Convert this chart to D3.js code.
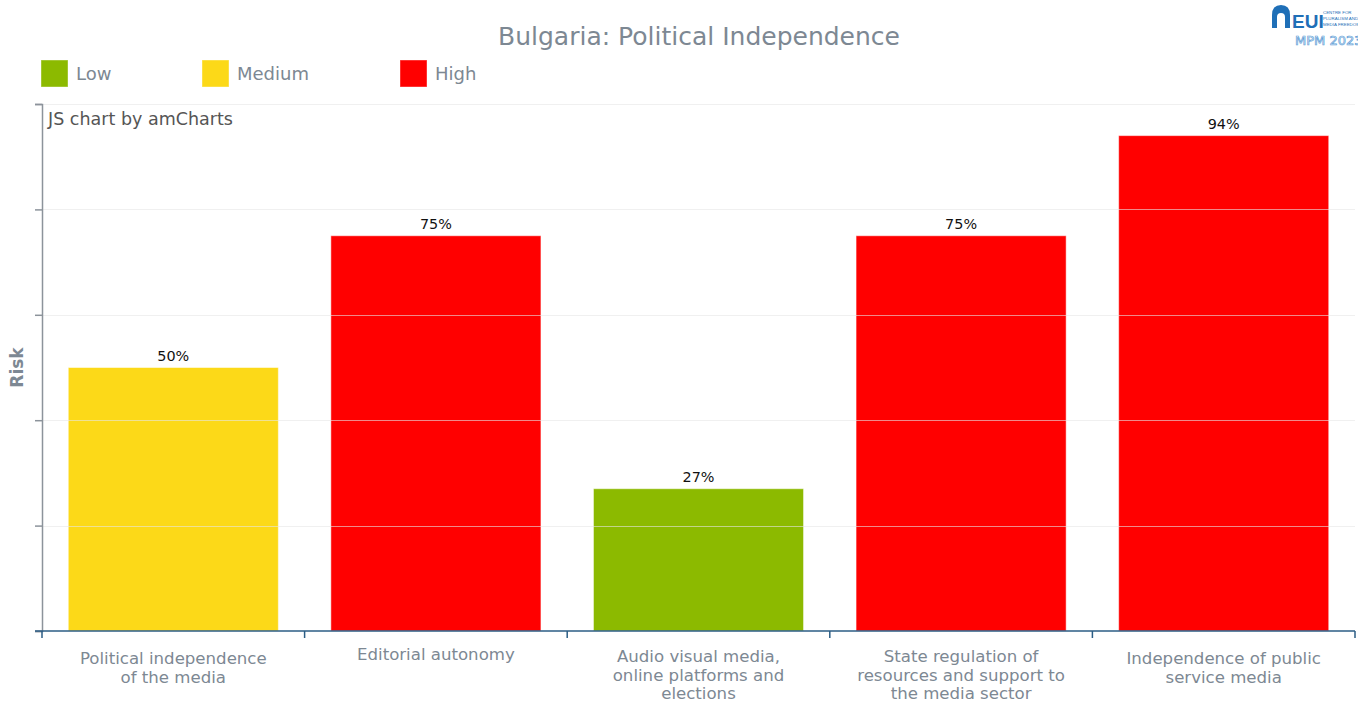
<!DOCTYPE html>
<html>
<head>
<meta charset="utf-8">
<script src="https://cdn.jsdelivr.net/npm/d3@7"></script>
<style>
  body { margin: 0; background: #fff; }
  svg { display: block; font-family: 'DejaVu Sans', Verdana, sans-serif; }
</style>
</head>
<body>
<svg id="chart" width="1358" height="702"></svg>
<script>
const categories = [
  ['Political independence', 'of the media'],
  ['Editorial autonomy'],
  ['Audio visual media,', 'online platforms and', 'elections'],
  ['State regulation of', 'resources and support to', 'the media sector'],
  ['Independence of public', 'service media']
]
const values = [50, 75, 27, 75, 94]
const riskLevels = ['Medium', 'High', 'Low', 'High', 'High']
const legendNames = ['Low', 'Medium', 'High']
const legendColors = ['#8cba00', '#fcd918', '#ff0000']
const yTicks = [0, 20, 40, 60, 80, 100]

const width = 1358
const height = 702
const margin = { top: 104, left: 42, bottom: 71, right: 3 }
const chartWidth = width - (margin.left + margin.right)
const chartHeight = height - (margin.top + margin.bottom)

const svg = d3.select('#chart')
const color = d3.scaleOrdinal().domain(legendNames).range(legendColors)

const x = d3.scaleBand()
  .domain(d3.range(categories.length))
  .range([margin.left, margin.left + chartWidth])
  .paddingInner(0.2)
  .paddingOuter(0.1)

const y = d3.scaleLinear()
  .domain([0, 100])
  .range([margin.top + chartHeight, margin.top])

// title
svg.append('text')
  .attr('x', 699).attr('y', 45)
  .attr('text-anchor', 'middle')
  .attr('fill', '#7d8893')
  .style('font-size', '25px')
  .text('Bulgaria: Political Independence')

// legend
const legendX = [41, 202, 400]
const legend = svg.append('g').selectAll('g').data(legendNames).enter().append('g')
  .attr('transform', (d, i) => `translate(${legendX[i]},60)`)
legend.append('rect')
  .attr('width', 27).attr('height', 27)
  .attr('fill', d => color(d))
  .attr('stroke', 'rgba(255,255,255,0.4)')
legend.append('text')
  .attr('x', 35).attr('y', 20)
  .attr('fill', '#7d8893')
  .style('font-size', '18px')
  .text(d => d)

// bars
svg.append('g').selectAll('rect').data(values).enter().append('rect')
  .attr('x', (d, i) => x(i))
  .attr('y', d => y(d))
  .attr('width', x.bandwidth())
  .attr('height', d => y(0) - y(d))
  .attr('fill', (d, i) => color(riskLevels[i]))
  .attr('stroke', 'rgba(255,255,255,0.5)')
  .attr('stroke-width', 1)

// grid drawn over bars, faint
svg.append('g').selectAll('line').data(yTicks.slice(1)).enter().append('line')
  .attr('x1', margin.left).attr('x2', margin.left + chartWidth)
  .attr('y1', d => Math.round(y(d)) + 0.5).attr('y2', d => Math.round(y(d)) + 0.5)
  .attr('stroke', '#e6e6e6')
  .attr('stroke-opacity', 0.6)

// value labels
svg.append('g').selectAll('text').data(values).enter().append('text')
  .attr('x', (d, i) => x(i) + x.bandwidth() / 2)
  .attr('y', d => y(d) - 7)
  .attr('text-anchor', 'middle')
  .attr('fill', '#111')
  .style('font-size', '14.4px')
  .text(d => d + '%')

// y axis
const yAxis = svg.append('g')
  .attr('transform', `translate(${margin.left},0)`)
  .call(d3.axisLeft(y).tickValues(yTicks).tickSize(7).tickFormat(''))
yAxis.selectAll('path, line').attr('stroke', '#8c939b').attr('stroke-width', 1.5)

svg.append('text')
  .attr('transform', `translate(23,${margin.top + chartHeight / 2}) rotate(-90)`)
  .attr('text-anchor', 'middle')
  .attr('fill', '#7d8893')
  .style('font-size', '17px')
  .style('font-weight', 'bold')
  .text('Risk')

// x axis
const xEdges = d3.range(categories.length + 1).map(i => margin.left + i * chartWidth / categories.length)
const xAxisG = svg.append('g')
xAxisG.append('line')
  .attr('x1', margin.left - 7).attr('x2', margin.left + chartWidth)
  .attr('y1', y(0)).attr('y2', y(0))
  .attr('stroke', '#2b5d85').attr('stroke-width', 1.5)
xAxisG.selectAll('.tick').data(xEdges).enter().append('line')
  .attr('x1', d => d).attr('x2', d => d)
  .attr('y1', y(0)).attr('y2', y(0) + 7)
  .attr('stroke', '#2b5d85').attr('stroke-width', 1.5)

const firstBaseline = { 1: 660, 2: 664, 3: 662 }
const catLabels = svg.append('g').selectAll('text').data(categories).enter().append('text')
  .attr('x', (d, i) => x(i) + x.bandwidth() / 2)
  .attr('y', d => firstBaseline[d.length])
  .attr('text-anchor', 'middle')
  .attr('fill', '#7d8893')
  .style('font-size', '16.6px')
catLabels.selectAll('tspan').data(d => d).enter().append('tspan')
  .attr('x', function () { return d3.select(this.parentNode).attr('x') })
  .attr('dy', (d, i) => i === 0 ? 0 : 18.5)
  .text(d => d)

// watermark
svg.append('text')
  .attr('x', 48).attr('y', 125)
  .attr('fill', '#555')
  .style('font-size', '17.5px')
  .text('JS chart by amCharts')

// logo
const logo = svg.append('g').attr('transform', 'translate(1272,5)')
logo.append('path')
  .attr('d', 'M0,23 L0,10 Q0,0 9,0 Q18,0 18,10 L18,23 L13,23 L13,12 Q13,8 9,8 Q5,8 5,12 L5,23 Z')
  .attr('fill', '#1f6fb7')
logo.append('text')
  .attr('x', 20).attr('y', 23)
  .attr('fill', '#1f6fb7')
  .style('font-size', '19px').style('font-weight', 'bold')
  .style('font-family', "'Liberation Sans Narrow', sans-serif")
  .text('EUI')
const logoSmall = ['CENTRE FOR', 'PLURALISM AND', 'MEDIA FREEDOM']
logo.selectAll('.small').data(logoSmall).enter().append('text')
  .attr('x', 51).attr('y', (d, i) => 9 + i * 6)
  .attr('fill', '#1f6fb7')
  .style('font-size', '4.4px')
  .style('font-family', "'Liberation Sans Narrow', sans-serif")
  .text(d => d)
logo.append('text')
  .attr('x', 23).attr('y', 40)
  .attr('fill', 'none').attr('stroke', '#5a9bd5').attr('stroke-width', 0.7)
  .style('font-size', '13px')
  .text('MPM 2023')
</script>
</body>
</html>
